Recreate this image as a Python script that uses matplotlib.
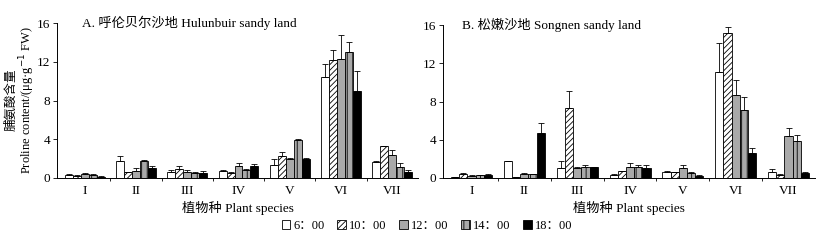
import matplotlib
matplotlib.use("Agg")
import matplotlib.pyplot as plt
import numpy as np
from matplotlib.patches import Patch

plt.rcParams['font.family'] = ['Liberation Serif', 'Noto Sans CJK SC', 'DejaVu Sans']
plt.rcParams['hatch.linewidth'] = 0.6

species = ["I", "II", "III", "IV", "V", "VI", "VII"]
times = ["6：00", "10：00", "12：00", "14：00", "18：00"]

# Panel A: Hulunbuir sandy land (rows = times, columns = species)
a_vals = [
    [0.35, 1.75, 0.60, 0.75, 1.35, 10.4, 1.70],
    [0.25, 0.60, 0.90, 0.50, 2.30, 12.15, 3.30],
    [0.40, 0.70, 0.65, 1.20, 2.00, 12.3, 2.40],
    [0.35, 1.80, 0.55, 0.80, 3.90, 13.0, 1.15],
    [0.15, 1.05, 0.50, 1.25, 1.95, 8.95, 0.65],
]
a_err = [
    [0.08, 0.55, 0.20, 0.05, 0.60, 1.35, 0.10],
    [0.05, 0.05, 0.35, 0.15, 0.35, 1.05, 0.05],
    [0.10, 0.30, 0.15, 0.30, 0.05, 2.50, 0.45],
    [0.08, 0.10, 0.10, 0.10, 0.10, 1.00, 0.35],
    [0.03, 0.20, 0.25, 0.20, 0.10, 2.10, 0.20],
]
# Panel B: Songnen sandy land
b_vals = [
    [0.10, 1.75, 1.05, 0.35, 0.65, 11.05, 0.65],
    [0.45, 0.10, 7.30, 0.70, 0.60, 15.2, 0.35],
    [0.25, 0.45, 1.00, 1.15, 1.05, 8.65, 4.40],
    [0.30, 0.40, 1.15, 1.15, 0.55, 7.10, 3.85],
    [0.35, 4.70, 1.15, 1.00, 0.25, 2.60, 0.55],
]
b_err = [
    [0.02, 0.05, 0.70, 0.05, 0.05, 3.05, 0.30],
    [0.10, 0.02, 1.80, 0.05, 0.05, 0.55, 0.05],
    [0.05, 0.05, 0.10, 0.45, 0.35, 1.60, 0.80],
    [0.05, 0.05, 0.25, 0.20, 0.10, 1.35, 0.65],
    [0.05, 1.10, 0.05, 0.35, 0.03, 0.50, 0.05],
]

styles = [
    dict(facecolor="white", hatch=None),
    dict(facecolor="white", hatch="//////"),
    dict(facecolor="#a9a9a9", hatch=None),
    dict(facecolor="#a9a9a9", hatch="|||"),
    dict(facecolor="black", hatch=None),
]

fig = plt.figure(figsize=(8.16, 2.4), dpi=100)
W, H = 816, 240
axA = fig.add_axes([57 / W, 1 - 178 / H, (418 - 57) / W, (178 - 23) / H])
axB = fig.add_axes([443 / W, 1 - 178 / H, (815 - 443) / W, (178 - 25) / H])

bw = 0.155
x = np.arange(len(species))


def draw(ax, vals, errs, title, tx):
    for i in range(len(times)):
        off = (i - 2) * bw
        v = np.array(vals[i])
        e = np.array(errs[i])
        st = styles[i]
        ax.bar(x + off, v, width=bw, facecolor=st["facecolor"], edgecolor="black",
               hatch=st["hatch"], linewidth=0.6, zorder=3)
        ax.errorbar(x + off, v, yerr=[np.zeros_like(e), e], fmt="none",
                    ecolor="black", elinewidth=0.6, capsize=2.5, capthick=0.6, zorder=4)
    ax.set_ylim(0, 16)
    ax.set_xlim(-0.54, len(species) - 0.5)
    ax.set_yticks([0, 4, 8, 12, 16])
    ax.set_xticks(x)
    ax.set_xticklabels(species)
    ax.set_xticks(np.arange(0.5, len(species) - 1, 1.0), minor=True)
    ax.tick_params(axis="x", which="major", length=0, labelsize=9.5, pad=5)
    ax.tick_params(axis="x", which="minor", length=2, width=0.6, direction="out")
    ax.tick_params(axis="y", length=3, width=0.6, labelsize=9.5, pad=2)
    for s in ["top", "right"]:
        ax.spines[s].set_visible(False)
    for s in ["left", "bottom"]:
        ax.spines[s].set_linewidth(0.7)
    ax.text(tx, 1.0, title, transform=ax.transAxes, fontsize=9.5,
            ha="left", va="center")
    ax.set_xlabel("植物种 Plant species", fontsize=9.5, labelpad=3)


draw(axA, a_vals, a_err, "A. 呼伦贝尔沙地 Hulunbuir sandy land", 0.07)
draw(axB, b_vals, b_err, "B. 松嫩沙地 Songnen sandy land", 0.05)

fig.text(11 / W, 1 - 100 / H, "脯氨酸含量", rotation=90, ha="center", va="center", fontsize=9)
fig.text(27 / W, 1 - 100 / H, "Proline content/(μg·g$^{-1}$ FW)", rotation=90, ha="center",
         va="center", fontsize=9)

handles = [Patch(facecolor=st["facecolor"], edgecolor="black", hatch=st["hatch"],
                 linewidth=0.6) for st in styles]
fig.legend(handles, times, loc="center", bbox_to_anchor=(427 / W, 1 - 226 / H), ncol=5,
           frameon=False, fontsize=9, handlelength=0.7, handleheight=0.7,
           handletextpad=0.25, columnspacing=1.0, borderaxespad=0)

fig.savefig("out.png", dpi=100)
